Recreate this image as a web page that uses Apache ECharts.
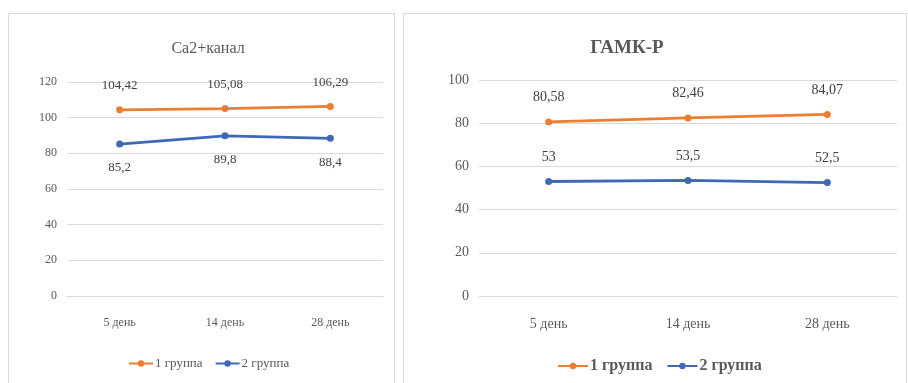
<!DOCTYPE html>
<html>
<head>
<meta charset="utf-8">
<style>
  html, body { margin: 0; padding: 0; background: #fff; }
  #chart { width: 908px; height: 383px; }
</style>
<script src="https://cdn.jsdelivr.net/npm/echarts@6/dist/echarts.min.js"></script>
</head>
<body>
<div id="chart"></div>
<script>
// Days of observation
const days = ['5 день', '14 день', '28 день'];
const seriesNames = ['1 группа', '2 группа'];

// Ca2+ channel
const caTitle = 'Ca2+канал';
const caGroup1 = [104.42, 105.08, 106.29];
const caGroup2 = [85.2, 89.8, 88.4];
const caTicks = [0, 20, 40, 60, 80, 100, 120];

// GABA receptor
const gabaTitle = 'ГАМК-Р';
const gabaGroup1 = [80.58, 82.46, 84.07];
const gabaGroup2 = [53, 53.5, 52.5];
const gabaTicks = [0, 20, 40, 60, 80, 100];

const ORANGE = '#ED7D31';
const BLUE = '#3F68B8';
const TEXT = '#595959';
const FONT = '"Liberation Serif", "DejaVu Serif", serif';

const comma = p => String(p.value).replace('.', ',');

function axisPair(gridIndex, ticks, fontSize) {
  const step = ticks[1] - ticks[0];
  return {
    x: {
      type: 'category', gridIndex, data: days, boundaryGap: true,
      axisLine: { show: true, lineStyle: { color: '#d9d9d9' } },
      axisTick: { show: false },
      axisLabel: { color: TEXT, fontFamily: FONT, fontSize, margin: 21 }
    },
    y: {
      type: 'value', gridIndex, min: ticks[0], max: ticks[ticks.length - 1], interval: step,
      axisLine: { show: false }, axisTick: { show: false },
      splitLine: { lineStyle: { color: '#d9d9d9' } },
      axisLabel: { color: TEXT, fontFamily: FONT, fontSize, margin: 10 }
    }
  };
}

function lineSeries(name, data, color, idx, pos, fontSize) {
  return {
    name, type: 'line', data, xAxisIndex: idx, yAxisIndex: idx,
    symbol: 'circle', symbolSize: 7,
    lineStyle: { color, width: 2.8 },
    itemStyle: { color },
    label: {
      show: true, position: pos, distance: 14, formatter: comma,
      color: '#404040', fontFamily: FONT, fontSize
    }
  };
}

const left = axisPair(0, caTicks, 12);
const right = axisPair(1, gabaTicks, 14);

const chart = echarts.init(document.getElementById('chart'), null, { renderer: 'canvas' });
chart.setOption({
  animation: false,
  backgroundColor: '#fff',
  graphic: [
    { type: 'rect', shape: { x: 8.5, y: 13.5, width: 386, height: 380 }, style: { fill: 'none', stroke: '#d9d9d9', lineWidth: 1 } },
    { type: 'rect', shape: { x: 403.5, y: 13.5, width: 503, height: 380 }, style: { fill: 'none', stroke: '#d9d9d9', lineWidth: 1 } }
  ],
  title: [
    { text: caTitle, left: 203, top: 36, textAlign: 'center',
      textStyle: { color: TEXT, fontFamily: FONT, fontSize: 16, fontWeight: 'normal' } },
    { text: gabaTitle, left: 622, top: 34, textAlign: 'center',
      textStyle: { color: TEXT, fontFamily: FONT, fontSize: 19, fontWeight: 'bold' } }
  ],
  legend: [
    { data: seriesNames, left: 123, top: 352, itemWidth: 24, itemHeight: 8, itemGap: 12,
      textStyle: { color: TEXT, fontFamily: FONT, fontSize: 13, padding: [0, 0, 0, -3] } },
    { data: seriesNames, left: 552, top: 353, itemWidth: 30, itemHeight: 8, itemGap: 14,
      textStyle: { color: TEXT, fontFamily: FONT, fontSize: 16, fontWeight: 'bold', padding: [0, 0, 0, -3] } }
  ],
  grid: [
    { left: 67, top: 82, width: 316, height: 214 },
    { left: 479, top: 80, width: 418, height: 216 }
  ],
  xAxis: [left.x, right.x],
  yAxis: [left.y, right.y],
  series: [
    lineSeries(seriesNames[0], caGroup1, ORANGE, 0, 'top', 13),
    lineSeries(seriesNames[1], caGroup2, BLUE, 0, 'bottom', 13),
    lineSeries(seriesNames[0], gabaGroup1, ORANGE, 1, 'top', 14),
    lineSeries(seriesNames[1], gabaGroup2, BLUE, 1, 'top', 14)
  ]
});
</script>
</body>
</html>
